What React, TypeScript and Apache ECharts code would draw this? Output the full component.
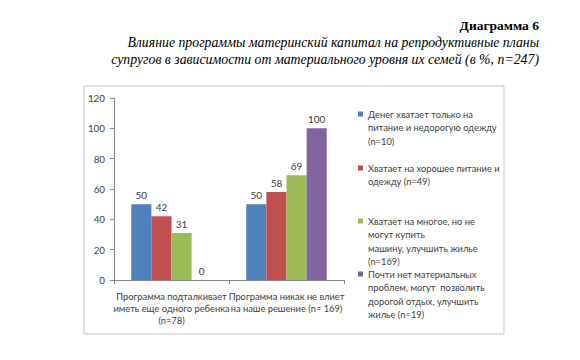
import React, { useEffect, useRef } from "react";
import * as echarts from "echarts";

const categories = [
  "Программа подталкивает\nиметь еще одного ребенка\n(n=78)",
  "Программа никак не влиет\nна наше решение (n= 169)",
];
const seriesNames = [
  "Денег хватает только на питание и недорогую одежду (n=10)",
  "Хватает на хорошее питание и одежду (n=49)",
  "Хватает на многое, но не могут купить машину, улучшить жилье (n=169)",
  "Почти нет материальных проблем, могут позволить дорогой отдых, улучшить жилье (n=19)",
];
const legendLabels = [
  "Денег хватает только на\nпитание и недорогую одежду\n(n=10)",
  "Хватает на хорошее питание и\nодежду (n=49)",
  "Хватает на многое, но не\nмогут купить\nмашину, улучшить жилье\n(n=169)",
  "Почти нет материальных\nпроблем, могут  позволить\nдорогой отдых, улучшить\nжилье (n=19)",
];
const seriesValues = [
  [50, 50],
  [42, 58],
  [31, 69],
  [0, 100],
];
const colors = ["#4f81bd", "#c0504d", "#9bbb59", "#8064a2"];
const titleText = "Диаграмма 6";
const subtitleLines = [
  "Влияние программы материнский капитал на репродуктивные планы",
  "супругов в зависимости от материального уровня их семей (в %, n=247)",
];

const FONT = "Lato, 'Noto Sans', sans-serif";
const SERIF = "'Liberation Serif', 'Times New Roman', serif";
const TXT = "#404040";

export default function App() {
  const ref = useRef<HTMLDivElement>(null);
  useEffect(() => {
    if (!ref.current) return;
    const chart = echarts.init(ref.current, undefined, { renderer: "svg" });
    const lh = 13.5;
    const firstLineY = [114, 168, 221, 274];
    const legends = seriesNames.map((name, i) => {
      const n = legendLabels[i].split("\n").length;
      const H = (n - 1) * lh + 5;
      return {
        data: [name],
        orient: "vertical" as const,
        left: 358,
        top: firstLineY[i] - lh / 2,
        padding: 0,
        icon: `path://M0,0h5v5h-5z M0,${H}`,
        itemWidth: 5,
        itemHeight: H,
        itemGap: 0,
        selectedMode: false,
        formatter: () => legendLabels[i],
        textStyle: {
          fontFamily: FONT,
          fontSize: 9.3,
          color: TXT,
          lineHeight: lh,
        },
      };
    });
    chart.setOption({
      animation: false,
      color: colors,
      grid: { left: 114, right: 236, top: 98, bottom: 80, containLabel: false },
      legend: legends,
      xAxis: {
        type: "category",
        data: categories,
        axisLine: { lineStyle: { color: "#898989" } },
        axisTick: { show: true, alignWithLabel: false, length: 4, lineStyle: { color: "#898989" } },
        axisLabel: {
          fontFamily: FONT,
          fontSize: 9.3,
          color: TXT,
          lineHeight: 12.3,
          margin: 10,
          interval: 0,
        },
      },
      yAxis: {
        type: "value",
        min: 0,
        max: 120,
        interval: 20,
        axisLine: { show: true, lineStyle: { color: "#898989" } },
        axisTick: { show: true, length: 4, lineStyle: { color: "#898989" } },
        splitLine: { show: false },
        axisLabel: { fontFamily: FONT, fontSize: 9.8, color: TXT, margin: 9 },
      },
      series: seriesNames.map((name, i) => ({
        name,
        type: "bar",
        data: seriesValues[i],
        barGap: "0%",
        barCategoryGap: "30%",
        label: {
          show: true,
          position: "top",
          distance: 4,
          fontFamily: FONT,
          fontSize: 10,
          color: TXT,
        },
      })),
      graphic: [
        {
          type: "rect",
          shape: { x: 84, y: 86, width: 420, height: 248 },
          style: { fill: "none", stroke: "#c6c6c6", lineWidth: 1 },
          silent: true,
        },
        {
          type: "text",
          x: 539,
          y: 25,
          style: {
            text: titleText,
            font: `bold 13.5px ${SERIF}`,
            fill: "#000",
            align: "right",
            verticalAlign: "middle",
          },
        },
        ...subtitleLines.map((t, i) => ({
          type: "text",
          x: 539,
          y: 42 + i * 17,
          style: {
            text: t,
            font: `italic 13.8px ${SERIF}`,
            fill: "#000",
            align: "right",
            verticalAlign: "middle",
          },
        })),
      ],
    });
    return () => chart.dispose();
  }, []);
  return <div ref={ref} style={{ width: 580, height: 360, margin: -8 }} />;
}
